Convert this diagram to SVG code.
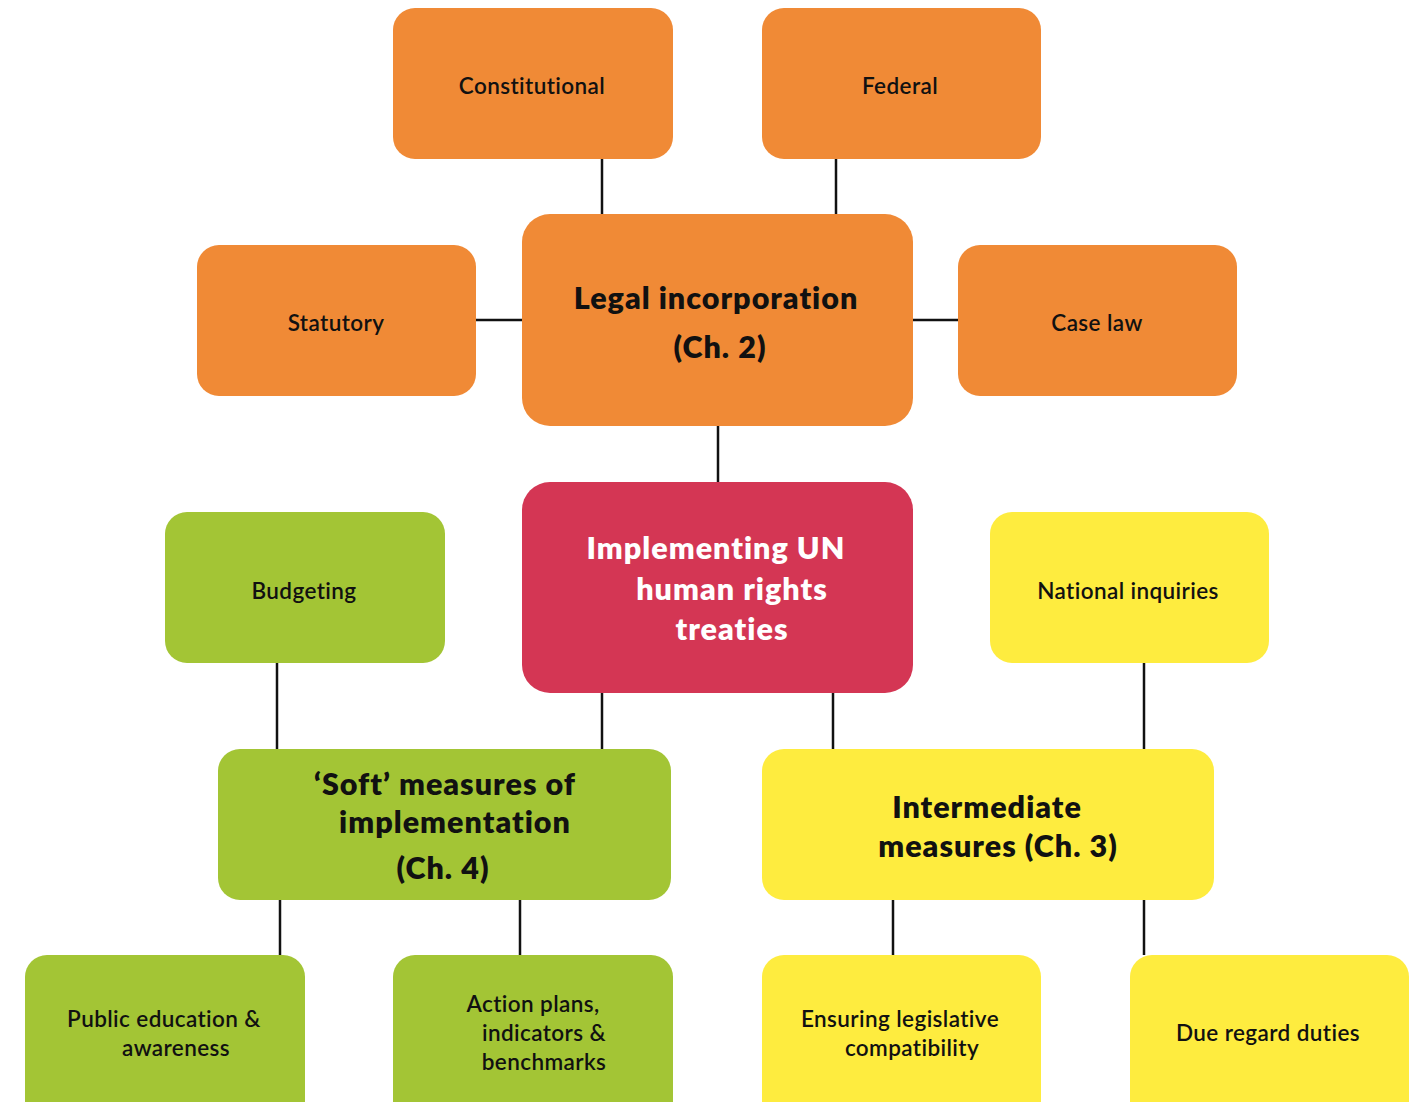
<svg xmlns="http://www.w3.org/2000/svg" width="1427" height="1102" viewBox="0 0 1427 1102">
<style>
.o{fill:#F08A36}.r{fill:#D43654}.g{fill:#A3C535}.y{fill:#FEEC3F}
text{font-family:Lato,"Open Sans","Liberation Sans",sans-serif;text-anchor:middle;fill:#111}
.s{font-size:22.5px;font-weight:600;letter-spacing:0.4px}
.b{font-size:30.5px;font-weight:800;letter-spacing:1px}
.w{fill:#fff}
#conn line{stroke:#111;stroke-width:2.5}
</style>
<rect width="1427" height="1102" fill="#fff"/>
<g id="conn">
<line x1="602" y1="158" x2="602" y2="215"/>
<line x1="836" y1="158" x2="836" y2="215"/>
<line x1="476" y1="320" x2="522" y2="320"/>
<line x1="913" y1="320" x2="958" y2="320"/>
<line x1="718" y1="426" x2="718" y2="482"/>
<line x1="277" y1="662" x2="277" y2="749"/>
<line x1="602" y1="692" x2="602" y2="749"/>
<line x1="833" y1="692" x2="833" y2="749"/>
<line x1="1144" y1="662" x2="1144" y2="749"/>
<line x1="280" y1="899" x2="280" y2="955"/>
<line x1="520" y1="899" x2="520" y2="955"/>
<line x1="893" y1="899" x2="893" y2="955"/>
<line x1="1144" y1="899" x2="1144" y2="955"/>
</g>
<g id="constitutional"><rect class="o" x="393" y="8" width="280" height="151" rx="22"/><text class="s" x="532" y="94">Constitutional</text></g>
<g id="federal"><rect class="o" x="762" y="8" width="279" height="151" rx="22"/><text class="s" x="900" y="94">Federal</text></g>
<g id="legal"><rect class="o" x="522" y="214" width="391" height="212" rx="28"/><text class="b" x="716" y="309">Legal incorporation</text><text class="b" x="720" y="358">(Ch. 2)</text></g>
<g id="statutory"><rect class="o" x="197" y="245" width="279" height="151" rx="22"/><text class="s" x="336" y="331">Statutory</text></g>
<g id="caselaw"><rect class="o" x="958" y="245" width="279" height="151" rx="22"/><text class="s" x="1097" y="331">Case law</text></g>
<g id="implementing"><rect class="r" x="522" y="482" width="391" height="211" rx="28"/><text class="b w" x="716" y="559">Implementing UN</text><text class="b w" x="732" y="600">human rights</text><text class="b w" x="732" y="640">treaties</text></g>
<g id="budgeting"><rect class="g" x="165" y="512" width="280" height="151" rx="22"/><text class="s" x="304" y="599">Budgeting</text></g>
<g id="national"><rect class="y" x="990" y="512" width="279" height="151" rx="22"/><text class="s" x="1128" y="599">National inquiries</text></g>
<g id="soft"><rect class="g" x="218" y="749" width="453" height="151" rx="22"/><text class="b" x="445" y="795">‘Soft’ measures of</text><text class="b" x="455" y="833">implementation</text><text class="b" x="443" y="879">(Ch. 4)</text></g>
<g id="intermediate"><rect class="y" x="762" y="749" width="452" height="151" rx="22"/><text class="b" x="987" y="818">Intermediate</text><text class="b" x="998" y="857">measures (Ch. 3)</text></g>
<g id="public"><rect class="g" x="25" y="955" width="280" height="170" rx="22"/><text class="s" x="164" y="1027">Public education &amp;</text><text class="s" x="176" y="1056">awareness</text></g>
<g id="action"><rect class="g" x="393" y="955" width="280" height="170" rx="22"/><text class="s" x="533" y="1012">Action plans,</text><text class="s" x="544" y="1041">indicators &amp;</text><text class="s" x="544" y="1070">benchmarks</text></g>
<g id="ensuring"><rect class="y" x="762" y="955" width="279" height="170" rx="22"/><text class="s" x="900" y="1027">Ensuring legislative</text><text class="s" x="912" y="1056">compatibility</text></g>
<g id="due"><rect class="y" x="1130" y="955" width="279" height="170" rx="22"/><text class="s" x="1268" y="1041">Due regard duties</text></g>
</svg>
